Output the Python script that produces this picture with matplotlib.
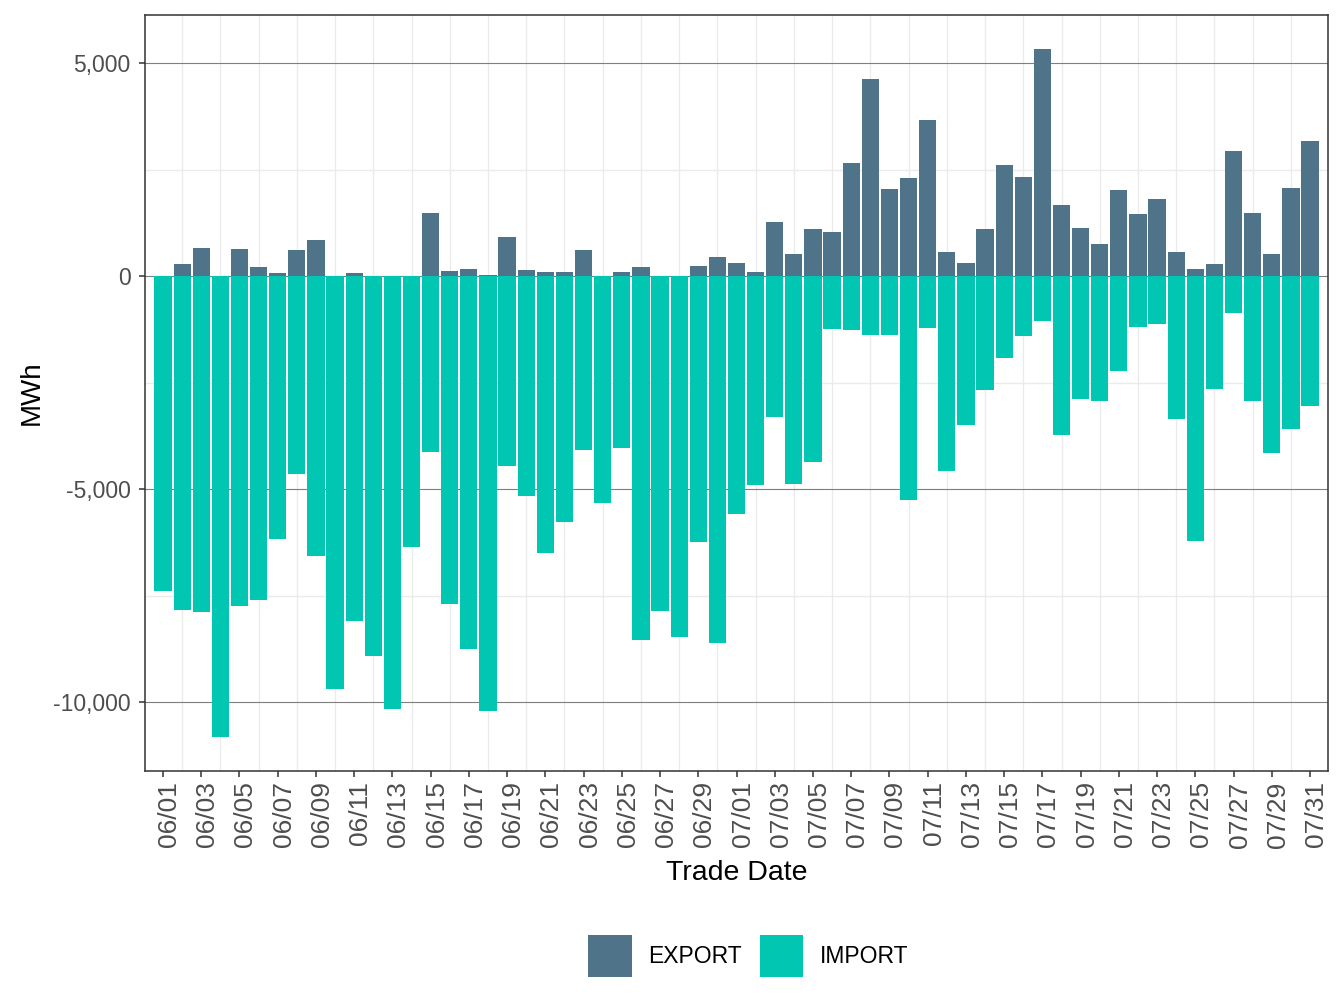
import matplotlib
matplotlib.use("Agg")
import matplotlib.pyplot as plt
import matplotlib.dates as mdates
import matplotlib.transforms as mtransforms
from matplotlib.patches import Patch
from matplotlib.ticker import FuncFormatter, MultipleLocator
import pandas as pd

plt.rcParams['font.family'] = ['Liberation Sans', 'DejaVu Sans']

# Daily net exports / imports (MWh), 06/01 .. 07/31
dates = pd.date_range("2023-06-01", "2023-07-31", freq="D")
export_mwh = [0, 280, 656, 0, 633, 211, 70, 609, 844, 0,
              70, 0, 0, 0, 1476, 117, 164, 30, 914, 141,
              94, 94, 609, 0, 94, 211, 0, 0, 234, 445,
              305, 94, 1266, 516, 1101, 1031, 2648, 4617, 2039, 2297,
              3656, 562, 305, 1101, 2601, 2320, 5320, 1664, 1125, 750,
              2016, 1453, 1805, 562, 164, 281, 2930, 1476, 516, 2062,
              3164]
import_mwh = [-7383, -7828, -7875, -10805, -7734, -7594, -6164, -4640, -6563, -9680,
              -8086, -8906, -10148, -6352, -4125, -7688, -8742, -10195, -4453, -5156,
              -6492, -5766, -4078, -5320, -4031, -8531, -7852, -8461, -6234, -8602,
              -5578, -4898, -3305, -4875, -4359, -1242, -1266, -1383, -1383, -5250,
              -1219, -4570, -3492, -2672, -1922, -1406, -1055, -3727, -2883, -2930,
              -2227, -1195, -1125, -3352, -6211, -2648, -867, -2930, -4148, -3586,
              -3047]

export_color = "#4F7489"
import_color = "#00C6B2"

fig = plt.figure(figsize=(13.44, 10.08), dpi=100)
ax = fig.add_axes([0.1079, 0.235, 0.8802, 0.750])

ax.bar(dates, import_mwh, width=0.9, color=import_color, zorder=3)
ax.bar(dates, export_mwh, width=0.9, color=export_color, zorder=3)

# axis limits
ax.set_xlim(mdates.date2num(dates[0]) - 0.94, mdates.date2num(dates[-1]) + 0.94)
ax.set_ylim(-11610, 6125)

# ticks: labels every other day, minor grid on the days in between
ax.set_xticks(dates[::2])
ax.set_xticklabels([d.strftime("%m/%d") for d in dates[::2]], rotation=90)
ax.set_xticks(dates[1::2], minor=True)
ax.yaxis.set_major_locator(MultipleLocator(5000))
ax.yaxis.set_minor_locator(MultipleLocator(2500))
ax.yaxis.set_major_formatter(FuncFormatter(lambda v, p: f"{int(v):,}"))

ax.tick_params(axis='x', which='major', labelsize=19, labelcolor="#4D4D4D",
               color="#333333", length=4.3, width=1.1, pad=3)
ax.tick_params(axis='y', which='major', labelsize=16.5, labelcolor="#4D4D4D",
               color="#333333", length=4.3, width=1.1, pad=6)
ax.tick_params(axis='both', which='minor', length=0)

# rotated date labels sit just right of their tick
shift = mtransforms.ScaledTranslation(6 / 100, 0, fig.dpi_scale_trans)
for lbl in ax.get_xticklabels():
    lbl.set_transform(lbl.get_transform() + shift)

# grid, theme_bw look
ax.set_axisbelow(True)
ax.grid(which='minor', axis='both', color="#EBEBEB", linewidth=1.0)
ax.grid(which='major', axis='x', visible=False)
ax.grid(which='major', axis='y', color="#7F7F7F", linewidth=0.8)
for s in ax.spines.values():
    s.set_color("#333333")
    s.set_linewidth(1.1)

ax.set_xlabel("Trade Date", fontsize=20.5, labelpad=9)
ax.set_ylabel("MWh", fontsize=20, labelpad=6)

handles = [Patch(facecolor=export_color, label="EXPORT"),
           Patch(facecolor=import_color, label="IMPORT")]
fig.legend(handles=handles, loc='center', bbox_to_anchor=(0.557, 0.0516),
           ncol=2, frameon=False, fontsize=16.5, handlelength=1.88,
           handleheight=2.44, handletextpad=0.74, columnspacing=0.79)

plt.savefig("out.png", dpi=100)
plt.close()
